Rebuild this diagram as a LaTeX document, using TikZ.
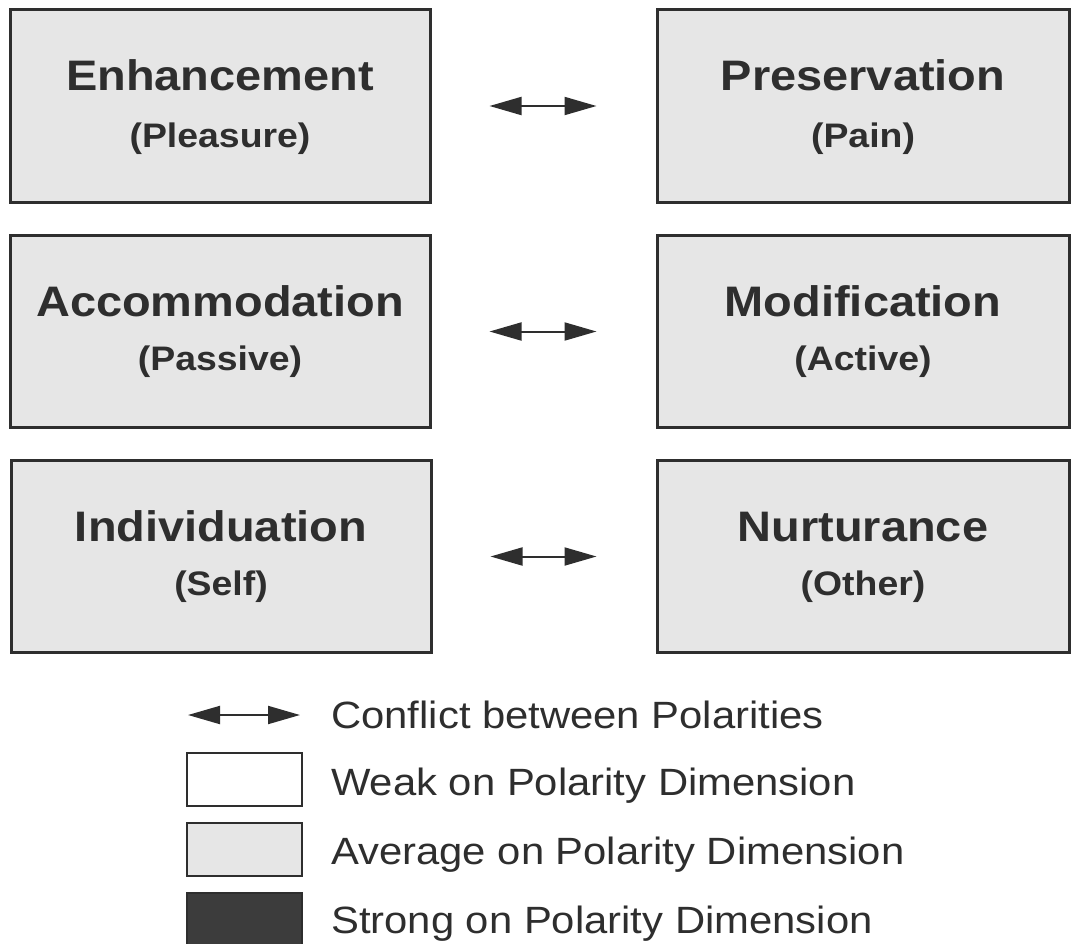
\documentclass[tikz,border=0pt]{standalone}
\usepackage{fontspec}
\setmainfont{Liberation Sans}[FakeStretch=1.1]
\usetikzlibrary{arrows.meta,calc}

\definecolor{ink}{HTML}{2E2E2E}
\definecolor{avgfill}{HTML}{E6E6E6}
\definecolor{strongfill}{HTML}{3C3C3C}

\begin{document}
\begin{tikzpicture}[x=0.75pt,y=-0.75pt,
  polbox/.style={draw=ink,fill=avgfill,line width=2.25pt,minimum height=144.5pt,inner sep=0pt},
  ttl/.style={anchor=base,text=ink,inner sep=0pt,font=\bfseries\fontsize{32}{38}\selectfont},
  sub/.style={anchor=base,text=ink,inner sep=0pt,font=\bfseries\fontsize{25.5}{30}\selectfont},
  conflict/.style={{Triangle[length=24pt,width=13.5pt]}-{Triangle[length=24pt,width=13.5pt]},draw=ink,line width=1.5pt},
  legbox/.style={draw=ink,line width=1.5pt,minimum width=86.25pt,minimum height=39.75pt,inner sep=0pt},
  legtxt/.style={anchor=base west,text=ink,inner sep=0pt,font=\fontsize{28.5}{34}\selectfont}]
  \useasboundingbox (0,0) rectangle (1071,943);
  % polarity pairs
  \node[polbox,minimum width=315pt] (enh) at (220,106) {};
  \node[polbox,minimum width=309pt] (pre) at (863,106) {};
  \node[ttl] (enht) at ($(enh)+(0,-16)$) {Enhancement};
  \node[sub] (enhs) at ($(enh)+(0,41)$) {(Pleasure)};
  \node[ttl] (pret) at ($(pre)+(0,-16)$) {Preservation};
  \node[sub] (pres) at ($(pre)+(0,41)$) {(Pain)};
  \draw[conflict,shorten <=43.5pt,shorten >=44.25pt] (enh) -- (pre);
  \node[polbox,minimum width=315pt] (acc) at (220,331.5) {};
  \node[polbox,minimum width=309pt] (mod) at (863,331.5) {};
  \node[ttl] (acct) at ($(acc)+(0,-15)$) {Accommodation};
  \node[sub] (accs) at ($(acc)+(0,39)$) {(Passive)};
  \node[ttl] (modt) at ($(mod)+(0,-15)$) {Modification};
  \node[sub] (mods) at ($(mod)+(0,39)$) {(Active)};
  \draw[conflict,shorten <=43.5pt,shorten >=44.25pt] (acc) -- (mod);
  \node[polbox,minimum width=315pt] (ind) at (221,556.5) {};
  \node[polbox,minimum width=309pt] (nur) at (863,556.5) {};
  \node[ttl] (indt) at ($(ind)+(0,-15)$) {Individuation};
  \node[sub] (inds) at ($(ind)+(0,39)$) {(Self)};
  \node[ttl] (nurt) at ($(nur)+(0,-15)$) {Nurturance};
  \node[sub] (nurs) at ($(nur)+(0,39)$) {(Other)};
  \draw[conflict,shorten <=43.5pt,shorten >=44.25pt] (ind) -- (nur);
  % legend
  \coordinate (cfa) at (188,715);
  \coordinate (cfb) at (300,715);
  \draw[conflict] (cfa) -- (cfb);
  \node[legtxt] (cft) at (331,728) {Conflict between Polarities};
  \node[legbox,fill=white] (weak) at (244.5,779.5) {};
  \node[legtxt] (weakt) at (331,795) {Weak on Polarity Dimension};
  \node[legbox,fill=avgfill] (avg) at (244.5,849.5) {};
  \node[legtxt] (avgt) at (331,864) {Average on Polarity Dimension};
  \node[legbox,fill=strongfill] (strong) at (244.5,919) {};
  \node[legtxt] (strongt) at (331,933) {Strong on Polarity Dimension};
\end{tikzpicture}
\end{document}
